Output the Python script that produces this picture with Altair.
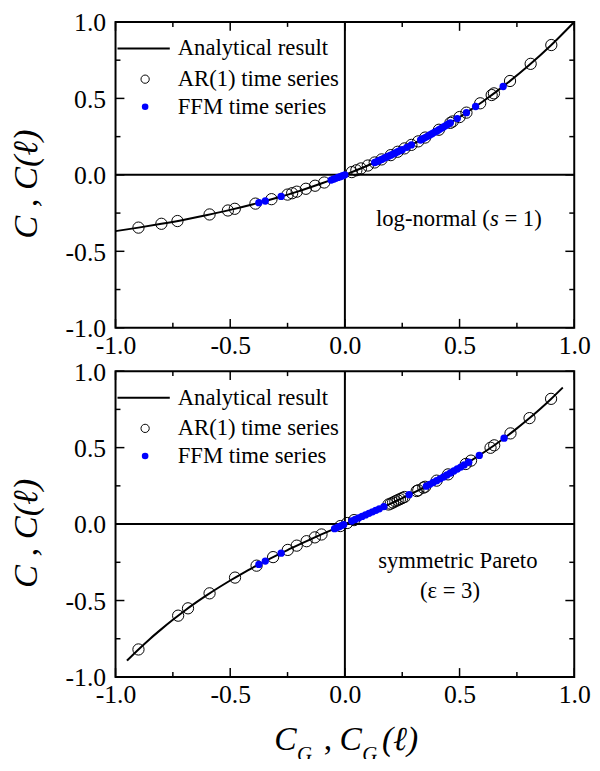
import altair as alt
import pandas as pd

# ---------------- data ----------------
# top panel: log-normal (s = 1)
top_curve_x = [-1.0, -0.9, -0.8, -0.7, -0.6, -0.5, -0.4, -0.3, -0.2, -0.1, 0.0,
               0.1, 0.2, 0.3, 0.4, 0.5, 0.6, 0.7, 0.8, 0.9, 1.0]
top_curve_y = [-0.368, -0.345, -0.320, -0.293, -0.263, -0.229, -0.192, -0.151, -0.106, -0.055, 0.0,
               0.061, 0.129, 0.204, 0.286, 0.378, 0.478, 0.590, 0.713, 0.849, 1.0]

top_ar_x = [-0.90, -0.80, -0.73, -0.59, -0.51, -0.48, -0.39, -0.32, -0.25, -0.23,
            -0.21, -0.17, -0.13, -0.09, 0.03, 0.05, 0.07, 0.10, 0.13, 0.16,
            0.20, 0.23, 0.26, 0.29, 0.32, 0.35, 0.41, 0.46, 0.47, 0.50,
            0.53, 0.59, 0.64, 0.65, 0.72, 0.81, 0.90]
top_ar_y = [-0.345, -0.320, -0.302, -0.259, -0.233, -0.222, -0.188, -0.159, -0.129, -0.120,
            -0.110, -0.091, -0.071, -0.050, 0.018, 0.030, 0.042, 0.061, 0.081, 0.101,
            0.129, 0.151, 0.173, 0.196, 0.219, 0.244, 0.295, 0.340, 0.349, 0.378,
            0.407, 0.468, 0.522, 0.533, 0.614, 0.726, 0.849]

top_ffm_x = [-0.375, -0.347, -0.278, -0.06, -0.05, -0.04, -0.03, -0.02, -0.01, 0.0,
             0.13, 0.14, 0.15, 0.16, 0.17, 0.18, 0.19, 0.20, 0.21, 0.22, 0.23, 0.24, 0.25,
             0.27, 0.29,
             0.33, 0.34, 0.35, 0.36, 0.37, 0.38, 0.39, 0.40, 0.41, 0.42, 0.43, 0.44, 0.45, 0.46,
             0.49, 0.53, 0.57, 0.69]
top_ffm_y = [-0.182, -0.171, -0.141, -0.034, -0.028, -0.023, -0.017, -0.012, -0.006, 0.0,
             0.081, 0.087, 0.094, 0.101, 0.108, 0.115, 0.122, 0.129, 0.136, 0.143, 0.151, 0.158, 0.165,
             0.180, 0.196,
             0.228, 0.236, 0.244, 0.252, 0.261, 0.269, 0.278, 0.286, 0.295, 0.304, 0.313, 0.322, 0.331, 0.340,
             0.368, 0.407, 0.447, 0.578]

# bottom panel: symmetric Pareto (eps = 3)
bot_curve_x = [-0.95, -0.90, -0.85, -0.80, -0.75, -0.70, -0.65, -0.60, -0.55, -0.50,
               -0.45, -0.40, -0.35, -0.30, -0.25, -0.20, -0.15, -0.10, -0.05, 0.0,
               0.05, 0.10, 0.15, 0.20, 0.25, 0.30, 0.35, 0.40, 0.45, 0.50,
               0.55, 0.60, 0.65, 0.70, 0.75, 0.80, 0.85, 0.90, 0.95]
bot_curve_y = [-0.893, -0.820, -0.751, -0.687, -0.626, -0.568, -0.514, -0.463, -0.415, -0.369,
               -0.325, -0.284, -0.244, -0.206, -0.170, -0.134, -0.100, -0.066, -0.033, 0.0,
               0.033, 0.066, 0.100, 0.134, 0.170, 0.206, 0.244, 0.284, 0.325, 0.369,
               0.415, 0.463, 0.514, 0.568, 0.626, 0.687, 0.751, 0.820, 0.893]

bot_ar_x = [-0.90, -0.727, -0.684, -0.59, -0.479, -0.385, -0.313, -0.249, -0.21, -0.167, -0.131, -0.102,
            -0.02, 0.01, 0.04,
            0.19, 0.20, 0.21, 0.22, 0.23, 0.24, 0.25, 0.26,
            0.313, 0.32, 0.342, 0.35, 0.40, 0.45,
            0.527, 0.55, 0.635, 0.651, 0.722, 0.805, 0.899]
bot_ar_y = [-0.820, -0.599, -0.551, -0.453, -0.350, -0.272, -0.216, -0.169, -0.141, -0.112, -0.087, -0.068,
            -0.013, 0.007, 0.026,
            0.128, 0.134, 0.141, 0.149, 0.156, 0.163, 0.170, 0.177,
            0.216, 0.221, 0.238, 0.244, 0.284, 0.325,
            0.393, 0.415, 0.499, 0.515, 0.593, 0.693, 0.819]

bot_ffm_x = [-0.375, -0.347, -0.278, -0.045, -0.035, -0.025, -0.015, -0.005,
             0.03, 0.045, 0.06, 0.075, 0.09, 0.105, 0.12, 0.135, 0.15,
             0.17, 0.28,
             0.355, 0.37, 0.385, 0.40, 0.415, 0.43, 0.445, 0.46, 0.475, 0.49, 0.505, 0.52,
             0.54, 0.586, 0.694]
bot_ffm_y = [-0.264, -0.242, -0.190, -0.030, -0.023, -0.017, -0.010, -0.003,
             0.020, 0.030, 0.040, 0.050, 0.060, 0.070, 0.080, 0.090, 0.100,
             0.114, 0.192,
             0.248, 0.260, 0.272, 0.284, 0.296, 0.308, 0.321, 0.334, 0.347, 0.360, 0.373, 0.387,
             0.405, 0.449, 0.562]

legend_labels = ["Analytical result", "AR(1) time series", "FFM time series"]
major_ticks = [-1.0, -0.5, 0.0, 0.5, 1.0]
minor_ticks = [-0.75, -0.25, 0.25, 0.75]
y_title = "C , C(\u2113)"

# ---------------- styling ----------------
W, H = 465, 310
SERIF = "Liberation Serif"
BLUE = "#0000ff"
MAJOR_LEN, MINOR_LEN = 9, 5
LABEL_EXPR = "datum.value < 0 ? '-' + format(-datum.value, '.1f') : format(datum.value, '.1f')"
one = pd.DataFrame({"v": [0]})


def sc():
    return alt.Scale(domain=[-1, 1], nice=False, zero=False)


main_x = alt.Axis(orient="bottom", values=major_ticks, labelExpr=LABEL_EXPR, ticks=False,
                  domain=False, grid=False, labelFont=SERIF, labelFontSize=26, labelColor="black",
                  labelPadding=5, labelFlush=False, labelOverlap=False, title=None)
main_y = alt.Axis(orient="left", values=major_ticks, labelExpr=LABEL_EXPR, ticks=False,
                  domain=False, grid=False, labelFont=SERIF, labelFontSize=26, labelColor="black",
                  labelPadding=10, labelFlush=False, labelOverlap=False,
                  labelBaseline="alphabetic", labelOffset=9,
                  title=y_title, titleFont=SERIF, titleFontSize=35, titleFontStyle="italic",
                  titleFontWeight="normal", titleColor="black", titlePadding=22,
                  titleY=H / 2 + 9)


def txt(s, x, y, size=23, style="normal", align="left", baseline="middle"):
    return alt.Chart(one).mark_text(text=s, font=SERIF, fontSize=size, fontStyle=style,
                                    align=align, baseline=baseline, color="black").encode(
        x=alt.value(x), y=alt.value(y))


def x_ticks(values, length):
    # inward ticks on the bottom and top frame edges, placed by the x scale
    base = alt.Chart(pd.DataFrame({"t": values})).mark_rule(color="black", strokeWidth=1.5)
    xx = alt.X("t:Q", scale=sc(), axis=None)
    return [base.encode(x=xx, y=alt.value(H - length), y2=alt.value(H)),
            base.encode(x=xx, y=alt.value(0), y2=alt.value(length))]


def y_ticks(values, length):
    # inward ticks on the left and right frame edges, placed by the y scale
    base = alt.Chart(pd.DataFrame({"t": values})).mark_rule(color="black", strokeWidth=1.5)
    yy = alt.Y("t:Q", scale=sc(), axis=None)
    return [base.encode(y=yy, x=alt.value(0), x2=alt.value(length)),
            base.encode(y=yy, x=alt.value(W - length), x2=alt.value(W))]


def panel(cx, cy, ax, ay, fx, fy, notes):
    zero_v = alt.Chart(one).mark_rule(color="black", strokeWidth=2).encode(
        x=alt.XDatum(0, type="quantitative", scale=sc(), axis=None))
    zero_h = alt.Chart(one).mark_rule(color="black", strokeWidth=2).encode(
        y=alt.YDatum(0, type="quantitative", scale=sc(), axis=None))
    ticks = (x_ticks(major_ticks, MAJOR_LEN) + x_ticks(minor_ticks, MINOR_LEN)
             + y_ticks(major_ticks, MAJOR_LEN) + y_ticks(minor_ticks, MINOR_LEN))
    curve = alt.Chart(pd.DataFrame({"x": cx, "y": cy})).mark_line(
        color="black", strokeWidth=2, interpolate="monotone").encode(
        x=alt.X("x:Q", scale=sc(), axis=main_x),
        y=alt.Y("y:Q", scale=sc(), axis=main_y))
    ar = alt.Chart(pd.DataFrame({"x": ax, "y": ay})).mark_point(
        shape="circle", filled=False, size=130, color="black", strokeWidth=1, opacity=1).encode(
        x=alt.X("x:Q", scale=sc(), axis=None),
        y=alt.Y("y:Q", scale=sc(), axis=None))
    ffm = alt.Chart(pd.DataFrame({"x": fx, "y": fy})).mark_circle(
        size=55, color=BLUE, opacity=1).encode(
        x=alt.X("x:Q", scale=sc(), axis=None),
        y=alt.Y("y:Q", scale=sc(), axis=None))
    # legend
    leg_line = alt.Chart(one).mark_rule(color="black", strokeWidth=2).encode(
        x=alt.value(2), x2=alt.value(55), y=alt.value(27))
    leg_ar = alt.Chart(one).mark_point(shape="circle", filled=False, size=70, color="black",
                                       strokeWidth=1, opacity=1).encode(
        x=alt.value(30), y=alt.value(58))
    leg_ffm = alt.Chart(one).mark_circle(size=45, color=BLUE, opacity=1).encode(
        x=alt.value(30), y=alt.value(86))
    leg_txt = [txt(legend_labels[0], 63, 27), txt(legend_labels[1], 63, 58),
               txt(legend_labels[2], 63, 86)]
    layers = ([curve, zero_v, zero_h] + ticks + [ar, ffm, leg_line, leg_ar, leg_ffm]
              + leg_txt + notes)
    return alt.layer(*layers).resolve_axis(x="independent", y="independent").properties(
        width=W, height=H)


top_notes = [txt("log-normal (", 264, 207, baseline="alphabetic"),
             txt("s", 379.6, 207, style="italic", baseline="alphabetic"),
             txt("= 1)", 394.2, 207, baseline="alphabetic")]
bot_notes = [txt("symmetric Pareto", 347, 200, align="center", baseline="alphabetic"),
             txt("(\u03b5 = 3)", 339, 230, align="center", baseline="alphabetic"),
             # x-axis title  C_G , C_G(l)  (subscripts run off the bottom edge, as in the original)
             txt("C", 161, 384, size=34, style="italic", baseline="alphabetic"),
             txt("G", 184, 395, size=21, style="italic", baseline="alphabetic"),
             txt(",", 211, 384, size=34, baseline="alphabetic"),
             txt("C", 227, 384, size=34, style="italic", baseline="alphabetic"),
             txt("G", 250, 395, size=21, style="italic", baseline="alphabetic"),
             txt("(\u2113)", 270, 384, size=34, style="italic", baseline="alphabetic")]

top = panel(top_curve_x, top_curve_y, top_ar_x, top_ar_y, top_ffm_x, top_ffm_y, top_notes)
bot = panel(bot_curve_x, bot_curve_y, bot_ar_x, bot_ar_y, bot_ffm_x, bot_ffm_y, bot_notes)

chart = alt.vconcat(top, bot, spacing=44, bounds="flush").properties(
    padding={"left": -1, "top": -4, "right": 0, "bottom": -12}
).configure(font=SERIF).configure_view(stroke="black", strokeWidth=2)

chart.save("out.html", embed_options={"renderer": "svg", "actions": False})
